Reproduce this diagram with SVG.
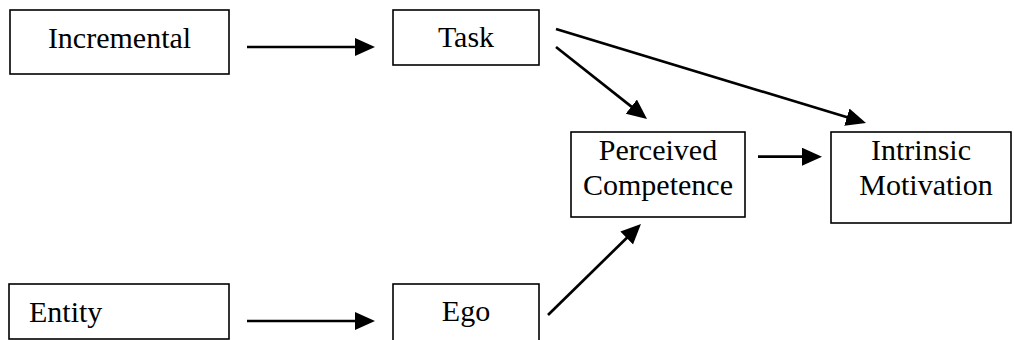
<svg xmlns="http://www.w3.org/2000/svg" width="1014" height="340" viewBox="0 0 1014 340">
<style>
.box{fill:#fff;stroke:#000;stroke-width:1.6}
.lbl{font-family:"Liberation Serif","Times New Roman",serif;font-size:30px;fill:#000}
.c{text-anchor:middle}
.edge{stroke:#000;stroke-width:2.7;fill:none;marker-end:url(#ah)}
</style>
<defs>
<marker id="ah" markerUnits="userSpaceOnUse" markerWidth="22" markerHeight="20" refX="15" refY="9" orient="auto">
<path d="M0,0 L20,9 L0,18 z" fill="#000"/>
</marker>
</defs>
<rect width="1014" height="340" fill="#fff"/>
<g id="incremental"><rect class="box" x="10" y="10" width="219" height="64"/><text class="lbl c" x="119.5" y="48">Incremental</text></g>
<g id="task"><rect class="box" x="393" y="10" width="146" height="55"/><text class="lbl c" x="466" y="47">Task</text></g>
<g id="perceived"><rect class="box" x="571" y="132" width="174" height="85"/><text class="lbl c" x="658" y="160">Perceived</text><text class="lbl c" x="658" y="195">Competence</text></g>
<g id="intrinsic"><rect class="box" x="831" y="132" width="180" height="91"/><text class="lbl c" x="921" y="160">Intrinsic</text><text class="lbl c" x="926" y="195">Motivation</text></g>
<g id="entity"><rect class="box" x="9" y="284" width="220" height="55"/><text class="lbl" x="29" y="322">Entity</text></g>
<g id="ego"><rect class="box" x="393" y="284" width="146" height="70"/><text class="lbl c" x="466" y="321">Ego</text></g>
<g id="connectors">
<line class="edge" x1="247" y1="47" x2="370" y2="47"/>
<line class="edge" x1="556" y1="47" x2="643.1" y2="115.9"/>
<line class="edge" x1="556" y1="29" x2="861.2" y2="121.5"/>
<line class="edge" x1="758" y1="156.7" x2="817" y2="156.7"/>
<line class="edge" x1="247" y1="321" x2="370" y2="321"/>
<line class="edge" x1="548" y1="315" x2="637.4" y2="227.5"/>
</g>
</svg>
